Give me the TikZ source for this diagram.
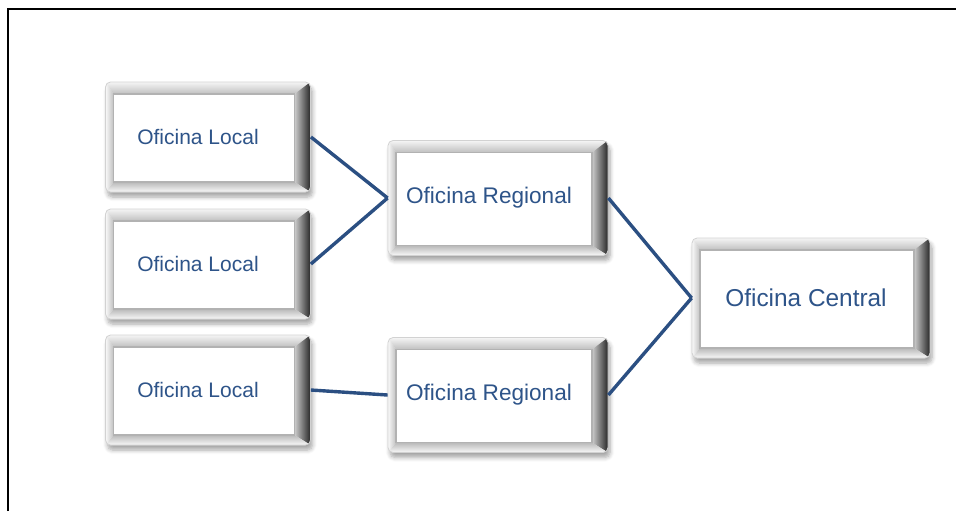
\documentclass[tikz,border=0pt]{standalone}
\usepackage{fontspec}
\setmainfont{Liberation Sans}
\usetikzlibrary{shadows.blur}
\definecolor{oficinablue}{HTML}{2E5489}
\definecolor{lineblue}{HTML}{2B4F82}

\begin{document}
\begin{tikzpicture}[x=0.5pt,y=-0.5pt,
    oficina/.style={rounded corners=2.5pt, draw=gray!35, fill=gray!10, text=oficinablue,
      blur shadow={shadow xshift=1pt, shadow yshift=-2.5pt, shadow opacity=35, shadow blur steps=6},
      path picture={
        \path (path picture bounding box.north west) coordinate (nw)
              (path picture bounding box.north east) coordinate (ne)
              (path picture bounding box.south east) coordinate (se)
              (path picture bounding box.south west) coordinate (sw)
              ([shift={(4pt,-6pt)}]nw) coordinate (fa)
              ([shift={(-8pt,-6pt)}]ne) coordinate (fb)
              ([shift={(-8pt,5pt)}]se) coordinate (fc)
              ([shift={(4pt,5pt)}]sw) coordinate (fd);
        \shade[sharp corners, top color=gray!8, bottom color=gray!50] (nw) -- (ne) -- (fb) -- (fa) -- cycle;
        \shade[sharp corners, left color=gray!40, right color=black!85] (ne) -- (se) -- (fc) -- (fb) -- cycle;
        \shade[sharp corners, top color=gray!55, bottom color=gray!5] (se) -- (sw) -- (fd) -- (fc) -- cycle;
        \shade[sharp corners, left color=gray!5, right color=gray!50] (sw) -- (nw) -- (fa) -- (fd) -- cycle;
        \filldraw[sharp corners, fill=white, draw=gray!60, line width=0.6pt] (fa) rectangle (fc);
      }},
    localbox/.style={oficina, minimum width=102.5pt, minimum height=55pt, font=\fontsize{10.5}{12}\selectfont,
      execute at end node={\hspace*{10pt}}},
    regionalbox/.style={oficina, minimum width=110pt, minimum height=57.5pt, font=\fontsize{11.3}{13}\selectfont,
      execute at end node={\hspace*{9pt}}},
    centralbox/.style={oficina, minimum width=119pt, minimum height=60pt, font=\fontsize{12.2}{14}\selectfont,
      execute at end node={\hspace*{5pt}}},
    conector/.style={lineblue, line width=1.7pt}]
    \useasboundingbox (0,0) rectangle (956,511);
    \draw[line width=1pt] (8,511) -- (8,9) -- (956,9);

    \node[localbox] (local1) at (208,137) {Oficina Local};
    \node[localbox] (local2) at (208,264) {Oficina Local};
    \node[localbox] (local3) at (208,390) {Oficina Local};
    \node[regionalbox] (regional1) at (498,198) {Oficina Regional};
    \node[regionalbox] (regional2) at (498,395) {Oficina Regional};
    \node[centralbox] (central) at (811,298) {Oficina Central};

    \draw[conector] (local1.east) -- (regional1.west);
    \draw[conector] (local2.east) -- (regional1.west);
    \draw[conector] (local3.east) -- (regional2.west);
    \draw[conector] (regional1.east) -- (central.west);
    \draw[conector] (regional2.east) -- (central.west);
\end{tikzpicture}
\end{document}
